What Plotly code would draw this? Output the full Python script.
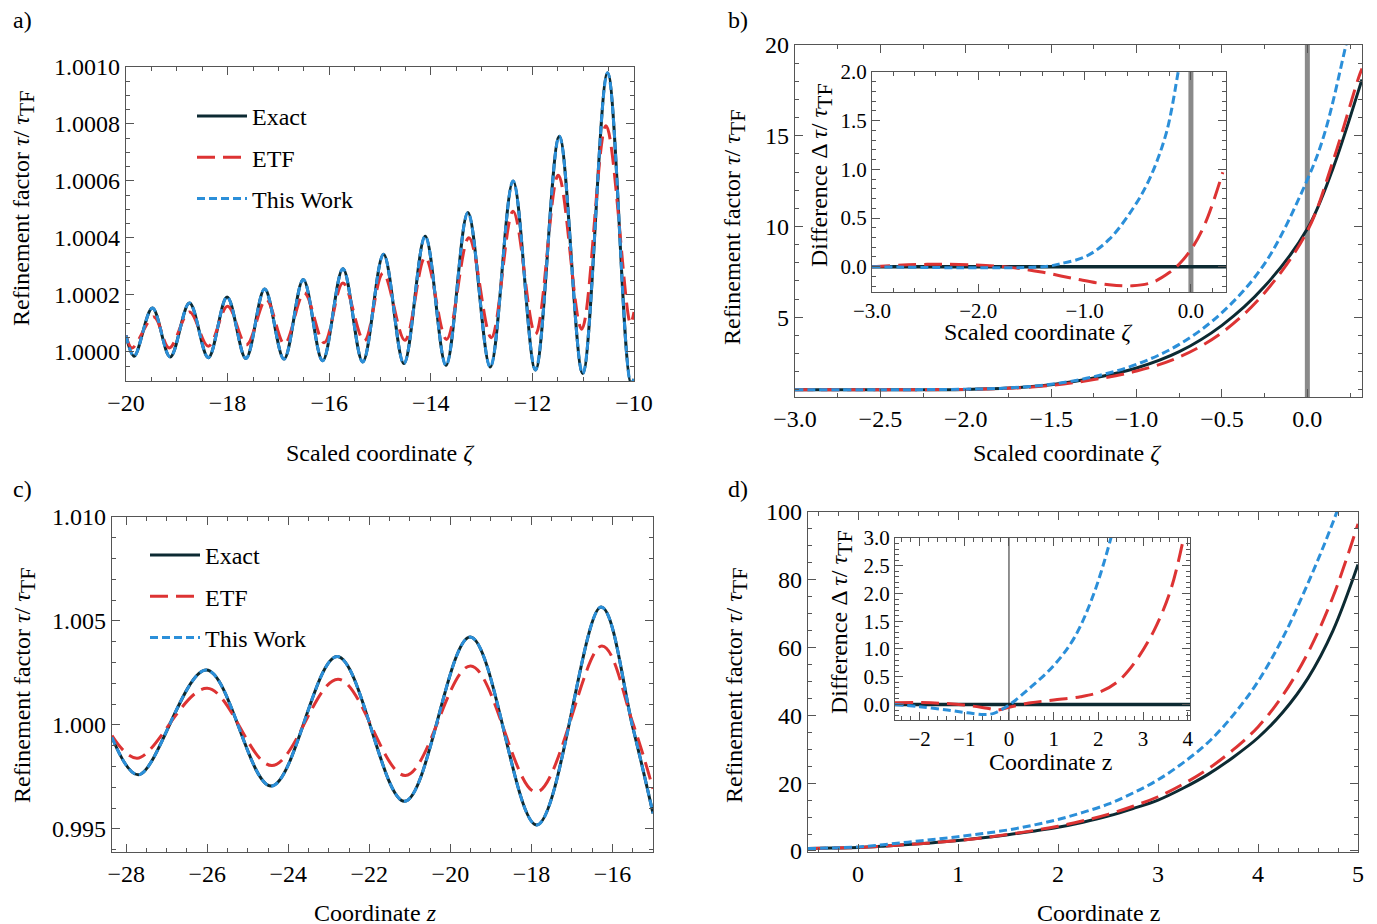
import plotly.graph_objects as go

# ---------------- data ----------------
# Panel a: scaled coordinate zeta, tau/tau_TF
a_zeta_exact = [-20.0, -19.84, -19.48, -19.13, -18.75, -18.38, -18.01, -17.64, -17.27, -16.89,
                -16.51, -16.13, -15.73, -15.34, -14.93, -14.53, -14.11, -13.70, -13.27, -12.83,
                -12.38, -11.94, -11.47, -11.01, -10.52, -10.06, -10.0]
a_exact = [1.000058, 0.999985, 1.000154, 0.9999825, 1.000172, 0.99998, 1.000193, 0.999977, 1.000221, 0.999975,
           1.000254, 0.999969, 1.000292, 0.999965, 1.000343, 0.999959, 1.000406, 0.999953, 1.000489, 0.999947,
           1.000600, 0.999937, 1.000757, 0.999924, 1.000980, 0.999890, 0.999905]
a_zeta_etf = [-20.0, -19.88, -19.45, -19.15, -18.75, -18.38, -18.00, -17.63, -17.24, -16.88,
              -16.49, -16.10, -15.73, -15.31, -14.94, -14.51, -14.11, -13.69, -13.25, -12.81,
              -12.38, -11.94, -11.49, -11.03, -10.55, -10.07, -10.0]
a_etf = [1.000058, 1.000014, 1.000123, 1.000014, 1.000140, 1.000020, 1.000160, 1.000025, 1.000184, 1.000028,
         1.000207, 1.000032, 1.000242, 1.000038, 1.000277, 1.000041, 1.000333, 1.000044, 1.000401, 1.000050,
         1.000494, 1.000062, 1.000620, 1.000080, 1.000794, 1.000100, 1.000140]
a_zeta_this = a_zeta_exact
a_this = a_exact

# Panel b: main
b_zeta = [-3.0, -2.5, -2.0, -1.75, -1.5, -1.25, -1.0, -0.75, -0.5, -0.25, 0.0, 0.15, 0.3, 0.32]
b_exact = [1.0, 1.0, 1.02, 1.09, 1.28, 1.65, 2.2, 3.1, 4.55, 6.7, 9.87, 13.2, 17.5, 18.1]
b_etf = [1.0, 1.0, 1.02, 1.08, 1.24, 1.56, 2.03, 2.8, 4.15, 6.35, 9.75, 13.6, 18.2, 18.7]
b_zeta_this = [-3.0, -2.5, -2.0, -1.75, -1.5, -1.25, -1.0, -0.75, -0.5, -0.25, 0.0, 0.1, 0.226, 0.25]
b_this = [1.0, 1.0, 1.03, 1.1, 1.3, 1.72, 2.4, 3.5, 5.25, 7.95, 12.58, 15.1, 20.0, 21.0]

# Panel b: inset (difference)
bi_zeta_this = [-3.0, -1.39, -1.23, -0.98, -0.77, -0.55, -0.39, -0.23, -0.12, -0.1]
bi_this = [0.0, 0.0, 0.03, 0.11, 0.28, 0.59, 0.9, 1.38, 2.0, 2.12]
bi_zeta_etf = [-3.0, -2.48, -2.02, -1.7, -1.39, -1.08, -0.77, -0.55, -0.36, -0.2, -0.11, 0.016, 0.14, 0.3]
bi_etf = [0.0, 0.024, 0.017, -0.007, -0.058, -0.127, -0.185, -0.196, -0.16, -0.058, 0.027, 0.2, 0.46, 0.97]
bi_zeta_exact = [-3.0, 0.33]
bi_exact = [0.0, 0.0]

# Panel c: coordinate z
c_z_exact = [-28.35, -27.70, -26.02, -24.42, -22.79, -21.13, -19.51, -17.87, -16.28, -15.5, -15.0]
c_exact = [0.99941, 0.99760, 1.00264, 0.99706, 1.00329, 0.99633, 1.00423, 0.99519, 1.00567, 0.99990, 0.99575]
c_z_etf = [-28.35, -27.73, -26.00, -24.40, -22.77, -21.11, -19.50, -17.88, -16.26, -15.5, -15.0]
c_etf = [0.99949, 0.99840, 1.00176, 0.99805, 1.00220, 0.99757, 1.00284, 0.99677, 1.00380, 1.00010, 0.99693]
c_z_this = c_z_exact
c_this = c_exact

# Panel d: main
d_z = [-0.5, -0.25, 0.0, 0.25, 0.5, 0.75, 1.0, 1.25, 1.5, 1.75, 2.0, 2.25, 2.5, 2.75,
       3.0, 3.25, 3.5, 3.75, 4.0, 4.25, 4.5, 4.75, 5.0]
d_exact = [0.7, 0.85, 1.0, 1.4, 1.9, 2.45, 3.1, 3.9, 4.8, 5.85, 7.0, 8.5, 10.3, 12.5,
           15.0, 18.5, 22.6, 27.6, 33.4, 41.0, 51.0, 65.0, 84.5]
d_etf = [0.7, 0.85, 1.0, 1.4, 1.9, 2.45, 3.1, 3.9, 4.9, 6.0, 7.3, 8.9, 10.8, 13.2,
         16.0, 19.7, 24.2, 29.8, 36.6, 46.0, 58.5, 75.0, 96.5]
d_this = [0.7, 0.9, 1.2, 1.85, 2.6, 3.4, 4.2, 5.15, 6.2, 7.6, 9.3, 11.4, 13.8, 17.1,
          21.0, 26.0, 32.0, 40.0, 50.0, 63.0, 79.0, 97.0, 118.0]

# Panel d: inset (difference)
di_z_this = [-2.55, -2.0, -1.38, -0.93, -0.56, -0.34, 0.0, 0.5, 1.0, 1.46, 1.9, 2.28, 2.32]
di_this = [0.0, -0.04, -0.10, -0.15, -0.18, -0.16, -0.01, 0.32, 0.70, 1.20, 2.0, 3.0, 3.15]
di_z_etf = [-2.55, -1.75, -1.0, -0.49, -0.26, 0.0, 0.49, 1.0, 1.6, 2.05, 2.43, 2.8, 3.25, 3.62, 3.88]
di_etf = [0.03, 0.03, -0.01, -0.07, -0.10, -0.05, 0.03, 0.08, 0.14, 0.23, 0.41, 0.74, 1.34, 2.07, 2.9]
di_z_exact = [-2.55, 4.12]
di_exact = [0.0, 0.0]

series_names = ["Exact", "ETF", "This Work"]

# ---------------- styling ----------------
FONT = "Liberation Serif"
C_EXACT = "#0c2a32"
C_ETF = "#dd3333"
C_THIS = "#2b8fd9"
W = 3.0
EXACT_LINE = dict(color=C_EXACT, width=W)
ETF_LINE = dict(color=C_ETF, width=W, dash="18px,8px")
THIS_LINE = dict(color=C_THIS, width=W, dash="8px,4px")

W_PX, H_PX = 1377, 924
OFF = 8  # page body margin of the rendered html


def PX(x):
    return (x - OFF) / W_PX


def PY(y):
    return 1 - (y - OFF) / H_PX


def px_dom_x(l, r):
    return [PX(l), PX(r)]


def px_dom_y(top, bottom):
    return [PY(bottom), PY(top)]


fig = go.Figure()


def add(x, y, line, name, xa, ya, legend=None, show=False):
    fig.add_trace(go.Scatter(
        x=x, y=y, mode="lines", name=name, line=dict(**line, shape="spline", smoothing=1.0),
        xaxis=xa, yaxis=ya, showlegend=show, legend=legend,
        legendgroup=(name + (legend or "")) if show else None,
    ))


# a
add(a_zeta_exact, a_exact, EXACT_LINE, series_names[0], "x", "y", "legend", True)
add(a_zeta_etf, a_etf, ETF_LINE, series_names[1], "x", "y", "legend", True)
add(a_zeta_this, a_this, THIS_LINE, series_names[2], "x", "y", "legend", True)
# b main
add(b_zeta, b_exact, EXACT_LINE, series_names[0], "x2", "y2")
add(b_zeta, b_etf, ETF_LINE, series_names[1], "x2", "y2")
add(b_zeta_this, b_this, THIS_LINE, series_names[2], "x2", "y2")
# b inset
add(bi_zeta_exact, bi_exact, dict(color=C_EXACT, width=3.4), series_names[0], "x3", "y3")
add(bi_zeta_etf, bi_etf, ETF_LINE, series_names[1], "x3", "y3")
add(bi_zeta_this, bi_this, THIS_LINE, series_names[2], "x3", "y3")
# c
add(c_z_exact, c_exact, EXACT_LINE, series_names[0], "x4", "y4", "legend2", True)
add(c_z_etf, c_etf, ETF_LINE, series_names[1], "x4", "y4", "legend2", True)
add(c_z_this, c_this, THIS_LINE, series_names[2], "x4", "y4", "legend2", True)
# d main
add(d_z, d_exact, EXACT_LINE, series_names[0], "x5", "y5")
add(d_z, d_etf, ETF_LINE, series_names[1], "x5", "y5")
add(d_z, d_this, THIS_LINE, series_names[2], "x5", "y5")
# d inset
add(di_z_exact, di_exact, dict(color=C_EXACT, width=3.4), series_names[0], "x6", "y6")
add(di_z_etf, di_etf, ETF_LINE, series_names[1], "x6", "y6")
add(di_z_this, di_this, THIS_LINE, series_names[2], "x6", "y6")


def axis(domain, rng, dtick, minor, anchor, fmt=None, tick0=0, size=24, ticklen=8, mticklen=4):
    d = dict(domain=domain, range=rng, dtick=dtick, tick0=tick0, anchor=anchor, automargin=False,
             showline=True, linecolor="#555", linewidth=1.2, mirror="allticks",
             ticks="inside", ticklen=ticklen, tickwidth=1.2, tickcolor="#555",
             minor=dict(ticks="inside", ticklen=mticklen, tickwidth=1, tickcolor="#555", dtick=minor, tick0=tick0),
             showgrid=False, zeroline=False,
             tickfont=dict(family=FONT, size=size, color="black"))
    if fmt:
        d["tickformat"] = fmt
    return d


LEG_FONT = dict(family=FONT, size=24, color="black")
layout = dict(
    width=W_PX, height=H_PX, margin=dict(l=0, r=0, t=0, b=0, pad=0, autoexpand=False),
    paper_bgcolor="white", plot_bgcolor="rgba(0,0,0,0)",
    font=dict(family=FONT, size=24, color="black"),
    xaxis=axis(px_dom_x(126, 634), [-20, -10], 2, 0.5, "y", tick0=0),
    yaxis=axis(px_dom_y(67, 381), [0.999898, 1.0010], 0.0002, 0.00005, "x", ".4f", tick0=1.0),
    xaxis2=axis(px_dom_x(795, 1362), [-3.0, 0.32], 0.5, 0.25, "y2", ".1f"),
    yaxis2=axis(px_dom_y(45, 397), [0.6, 20], 5, 1, "x2"),
    xaxis3=axis(px_dom_x(872, 1226), [-3.0, 0.33], 1, 0.2, "y3", ".1f", size=21),
    yaxis3=axis(px_dom_y(72, 292), [-0.26, 2.0], 0.5, 0.1, "x3", ".1f", size=21),
    xaxis4=axis(px_dom_x(112, 653), [-28.35, -15.0], 2, 0.5, "y4"),
    yaxis4=axis(px_dom_y(517, 852), [0.99389, 1.0100], 0.005, 0.001, "x4", ".3f", tick0=1.0),
    xaxis5=axis(px_dom_x(808, 1358), [-0.5, 5.0], 1, 0.2, "y5"),
    yaxis5=axis(px_dom_y(512, 852), [-0.3, 100], 20, 5, "x5"),
    xaxis6=axis(px_dom_x(895, 1190), [-2.55, 4.05], 1, 0.2, "y6", size=21),
    yaxis6=axis(px_dom_y(538, 720), [-0.28, 3.0], 0.5, 0.1, "x6", ".1f", size=21),
    legend=dict(x=PX(192), y=PY(94), xanchor="left", yanchor="top", itemwidth=50,
                font=LEG_FONT, tracegroupgap=7, bgcolor="rgba(0,0,0,0)"),
    legend2=dict(x=PX(145), y=PY(533), xanchor="left", yanchor="top", itemwidth=50,
                 font=LEG_FONT, tracegroupgap=7, bgcolor="rgba(0,0,0,0)"),
    showlegend=True,
)
fig.update_layout(**layout)

# reference lines
fig.add_shape(type="line", xref="x2", yref="y2 domain", x0=0, x1=0, y0=0, y1=1,
              line=dict(color="#8a8a8a", width=5), layer="below")
fig.add_shape(type="line", xref="x3", yref="y3 domain", x0=0, x1=0, y0=0, y1=1,
              line=dict(color="#8a8a8a", width=5), layer="below")
fig.add_shape(type="line", xref="x6", yref="y6 domain", x0=0, x1=0, y0=0, y1=1,
              line=dict(color="#222", width=1), layer="below")


def ann(text, x, y, angle=0, size=24):
    fig.add_annotation(text=text, x=PX(x), y=PY(y), xref="paper", yref="paper",
                       showarrow=False, textangle=angle, xanchor="center", yanchor="middle",
                       font=dict(family=FONT, size=size, color="black"))


# panel labels
ann("a)", 22, 20)
ann("b)", 738, 20)
ann("c)", 22, 489)
ann("d)", 738, 489)

ytitle = "Refinement factor <i>τ</i>/ <i>τ</i><sub><span style='font-size:22px'>TF</span></sub>"
dtitle = "Difference Δ <i>τ</i>/ <i>τ</i><sub><span style='font-size:22px'>TF</span></sub>"
ann(ytitle, 24, 209, -90)
ann(ytitle, 734, 228, -90)
ann(ytitle, 24, 686, -90)
ann(ytitle, 736, 686, -90)
ann(dtitle, 821, 175, -90)
ann(dtitle, 841, 622, -90)

ann("Scaled coordinate <i>ζ</i>", 380, 453)
ann("Scaled coordinate <i>ζ</i>", 1067, 453)
ann("Scaled coordinate <i>ζ</i>", 1038, 332)
ann("Coordinate <i>z</i>", 375, 913)
ann("Coordinate z", 1098, 913)
ann("Coordinate z", 1050, 762)

fig.write_html("out.html")
